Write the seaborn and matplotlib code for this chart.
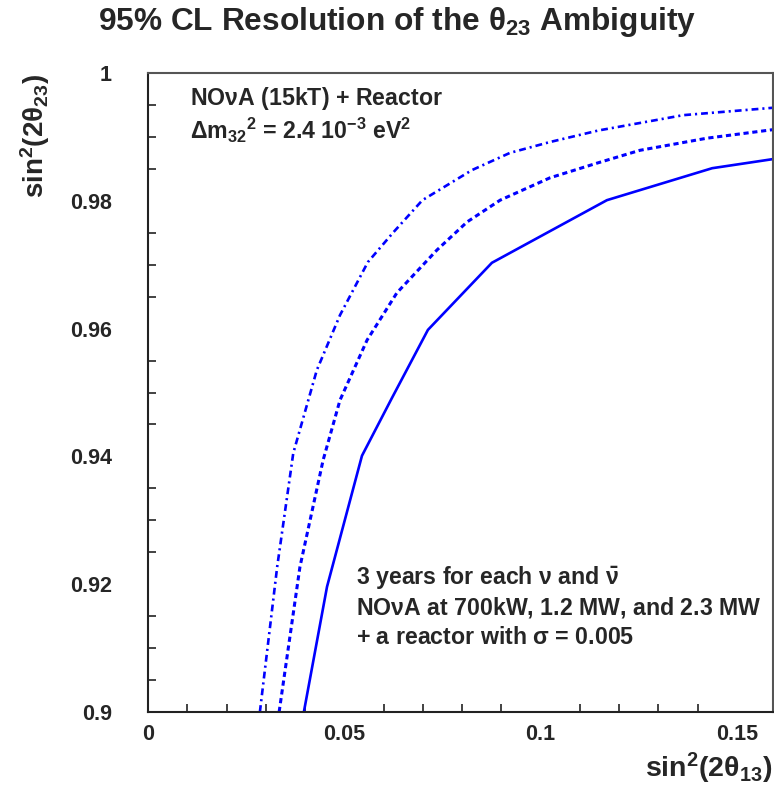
import matplotlib
matplotlib.use("Agg")
import matplotlib.pyplot as plt
import seaborn as sns
from matplotlib.ticker import MultipleLocator

# 95% CL contours: sin^2(2theta13) vs sin^2(2theta23) for three beam powers
solid_x = [0.0397, 0.0456, 0.0545, 0.0621, 0.0713, 0.0876, 0.1169, 0.1437, 0.1600]
solid_y = [0.9000, 0.9196, 0.9401, 0.9491, 0.9598, 0.9703, 0.9801, 0.9851, 0.9866]

dashed_x = [0.0334, 0.0387, 0.0446, 0.0489, 0.0558, 0.0634, 0.0736, 0.0813, 0.0897,
            0.1024, 0.1144, 0.1253, 0.1424, 0.1600]
dashed_y = [0.9000, 0.9227, 0.9394, 0.9488, 0.9582, 0.9656, 0.9723, 0.9767, 0.9801,
            0.9836, 0.9859, 0.9879, 0.9898, 0.9912]

dashdot_x = [0.0285, 0.0329, 0.0370, 0.0430, 0.0489, 0.0560, 0.0624, 0.0699, 0.0825,
             0.0922, 0.1024, 0.1147, 0.1363, 0.1600]
dashdot_y = [0.9000, 0.9227, 0.9405, 0.9535, 0.9621, 0.9704, 0.9750, 0.9801, 0.9848,
             0.9875, 0.9892, 0.9910, 0.9934, 0.9946]

x_ticks = [0, 0.05, 0.1, 0.15]
x_tick_labels = ["0", "0.05", "0.1", "0.15"]
y_ticks = [0.9, 0.92, 0.94, 0.96, 0.98, 1.0]
y_tick_labels = ["0.9", "0.92", "0.94", "0.96", "0.98", "1"]

sns.set_theme(style="white")
plt.rcParams["font.family"] = ["Liberation Sans", "DejaVu Sans"]
plt.rcParams["font.weight"] = "bold"
plt.rcParams["mathtext.fontset"] = "custom"
plt.rcParams["mathtext.rm"] = "Liberation Sans:bold"
plt.rcParams["mathtext.it"] = "Liberation Sans:bold"
plt.rcParams["mathtext.bf"] = "Liberation Sans:bold"
plt.rcParams["mathtext.sf"] = "Liberation Sans:bold"
plt.rcParams["mathtext.default"] = "rm"

W, H = 774, 789
fig = plt.figure(figsize=(W / 100, H / 100), dpi=100)
ax = fig.add_axes([148 / W, (H - 712) / H, (773 - 148) / W, (712 - 73) / H])

blue = "#0000ff"
sns.lineplot(x=solid_x, y=solid_y, ax=ax, color=blue, lw=1.9, sort=False, estimator=None)
sns.lineplot(x=dashed_x, y=dashed_y, ax=ax, color=blue, lw=2.2, sort=False, estimator=None,
             linestyle=(0, (1.7, 1.2)))
sns.lineplot(x=dashdot_x, y=dashdot_y, ax=ax, color=blue, lw=1.9, sort=False, estimator=None,
             linestyle=(0, (2.6, 1.5, 0.8, 1.5)))

ax.set_xlim(0, 0.1592)
ax.set_ylim(0.9, 1.0)
ax.set_xticks(x_ticks)
ax.set_xticklabels(x_tick_labels)
ax.set_yticks(y_ticks)
ax.set_yticklabels(y_tick_labels)
ax.xaxis.set_minor_locator(MultipleLocator(0.01))
ax.yaxis.set_minor_locator(MultipleLocator(0.005))

ax.tick_params(axis="both", which="major", direction="in", length=11.5, width=1.3,
               color="#222222", labelsize=15.5, top=False, right=False)
ax.tick_params(axis="both", which="minor", direction="in", length=5.5, width=1.2,
               color="#222222", top=False, right=False, bottom=True, left=True)
ax.tick_params(axis="x", which="major", pad=9)
ax.tick_params(axis="y", which="major", pad=26)
for lbl in ax.get_xticklabels() + ax.get_yticklabels():
    lbl.set_fontweight("bold")

for side in ["left", "bottom"]:
    ax.spines[side].set_color("#222222")
    ax.spines[side].set_linewidth(1.5)
for side in ["top", "right"]:
    ax.spines[side].set_color("#555555")
    ax.spines[side].set_linewidth(1.5)

fig.text(397 / W, 1 - 22 / H, r"95% CL Resolution of the $\theta_{23}$ Ambiguity",
         ha="center", va="center", fontsize=22.8, fontweight="bold")

fig.text(35 / W, 1 - 74 / H, r"sin$^2$(2$\theta_{23}$)", rotation=90,
         ha="center", va="top", fontsize=20, fontweight="bold")
fig.text(772 / W, 1 - 768 / H, r"sin$^2$(2$\theta_{13}$)",
         ha="right", va="center", fontsize=20.5, fontweight="bold")

fig.text(190 / W, 1 - 98 / H, r"NO$\nu$A (15kT) + Reactor",
         ha="left", va="center", fontsize=16.7, fontweight="bold")
fig.text(190 / W, 1 - 130 / H, r"$\Delta$m$_{32}$$^2$ = 2.4 10$^{-3}$ eV$^2$",
         ha="left", va="center", fontsize=16.7, fontweight="bold")

fig.text(356 / W, 1 - 578 / H, r"3 years for each $\nu$ and $\bar{\nu}$",
         ha="left", va="center", fontsize=16.7, fontweight="bold")
fig.text(356 / W, 1 - 607 / H, r"NO$\nu$A at 700kW, 1.2 MW, and 2.3 MW",
         ha="left", va="center", fontsize=16.7, fontweight="bold")
fig.text(356 / W, 1 - 637 / H, r"+ a reactor with $\sigma$ = 0.005",
         ha="left", va="center", fontsize=16.7, fontweight="bold")

fig.savefig("out.png", dpi=100, facecolor="white")
